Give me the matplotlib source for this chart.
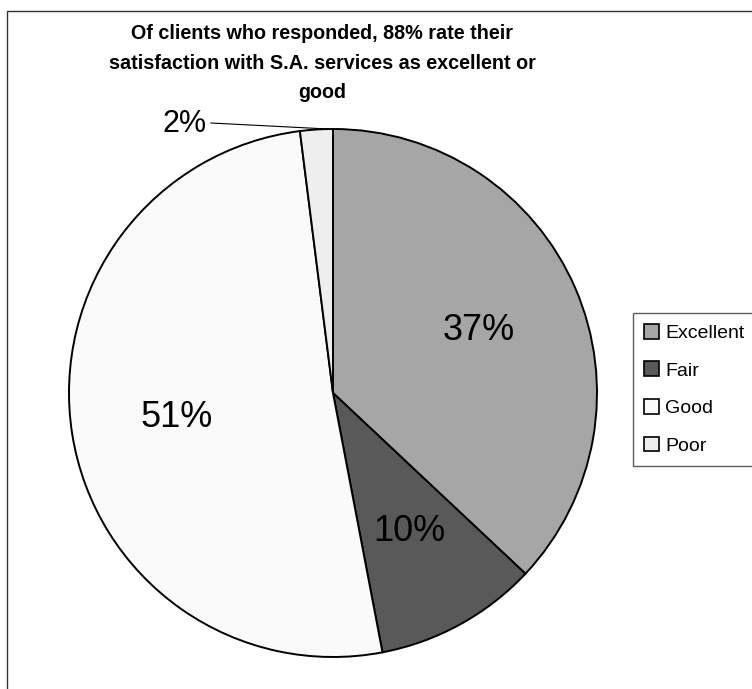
import matplotlib
matplotlib.use("Agg")
import matplotlib.pyplot as plt
from matplotlib import font_manager
from matplotlib.patches import Patch

# satisfaction ratings, clockwise from 12 o'clock
categories = ["Excellent", "Fair", "Good", "Poor"]
shares = [37, 10, 51, 2]
colors = ["#a6a6a6", "#595959", "#fafafa", "#eeeeee"]
title_lines = [
    "Of clients who responded, 88% rate their",
    "satisfaction with S.A. services as excellent or",
    "good",
]

W, H = 752, 689
installed = {f.name for f in font_manager.fontManager.ttflist}
if "Liberation Sans Narrow" in installed:
    title_font, title_size = "Liberation Sans Narrow", 17.8
else:
    title_font, title_size = "Liberation Sans", 14.2
plt.rcParams["font.family"] = ["Liberation Sans", "DejaVu Sans"]


def px(x, y):
    # pixel position (origin top-left) -> data coords of the full-figure axes
    return x, H - y


def inside_label(pct):
    # the tiny slice is labelled outside with a leader line
    return "" if pct < 5 else f"{pct:.0f}%"


fig = plt.figure(figsize=(W / 100, H / 100), dpi=100)
ax = fig.add_axes([0, 0, 1, 1])

wedges, _, _ = ax.pie(shares, colors=colors, startangle=90, counterclock=False,
                      center=px(333, 393), radius=264,
                      autopct=inside_label, pctdistance=0.6,
                      textprops=dict(fontsize=26),
                      wedgeprops=dict(edgecolor="black", linewidth=1.4))
ax.set_xlim(0, W)
ax.set_ylim(0, H)
ax.set_aspect("equal")
ax.axis("off")

poor = shares[categories.index("Poor")]
ax.text(*px(185, 124), f"{poor}%", fontsize=22, ha="center", va="center")
ax.plot(*zip(px(211, 123), px(328, 129)), color="black", lw=0.8)

# title
for line, base in zip(title_lines, [39, 69, 98]):
    ax.text(*px(322, base), line, fontsize=title_size, fontweight="bold",
            family=title_font, ha="center", va="baseline")

# chart-area border (right/bottom fall outside the image)
ax.plot(*zip(px(7, H + 5), px(7, 11), px(W + 5, 11)), color="#333333", lw=1.0,
        clip_on=False)

handles = [Patch(facecolor=c, edgecolor="black", linewidth=1.2) for c in colors]
leg = fig.legend(handles, categories, loc="upper left",
                 bbox_to_anchor=(633 / W, 1 - 313 / H), borderaxespad=0,
                 fontsize=14, frameon=True, fancybox=False, shadow=False,
                 handlelength=0.8, handleheight=0.8, handletextpad=0.3,
                 labelspacing=1.0, borderpad=0.55)
leg.get_frame().set_edgecolor("#333333")
leg.get_frame().set_linewidth(1.0)

fig.savefig("out.png", dpi=100)
